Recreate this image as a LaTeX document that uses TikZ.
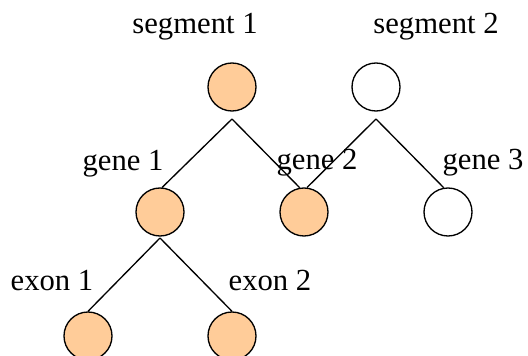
\documentclass[tikz,border=0pt]{standalone}
\usepackage{fontspec}
\setmainfont{Liberation Serif}

\tikzset{every picture/.style={line width=1pt}}
\tikzset{
  blob/.style={draw, circle, inner sep=0pt, minimum size=36pt},
  usedblob/.style={blob, fill={rgb, 255:red, 255; green, 204; blue, 153 }},
  freeblob/.style={blob, fill=white},
  tag/.style={anchor=base, inner sep=0.75pt, font=\fontsize{23}{27}\selectfont}
}

\begin{document}
\begin{tikzpicture}[x=0.75pt,y=0.75pt,yscale=-1,xscale=1]
\useasboundingbox (0,0) rectangle (528,356);

%Segments
\node (seg1) [usedblob] at (232,87) {};
\node (seg2) [freeblob] at (376,87) {};
%Genes
\node (gene1) [usedblob] at (160,212) {};
\node (gene2) [usedblob] at (304,212) {};
\node (gene3) [freeblob] at (448,212) {};
%Exons
\node (exon1) [usedblob] at (88,336) {};
\node (exon2) [usedblob] at (232,336) {};

%Forks
\coordinate (seg1fork) at (232,119);
\coordinate (seg2fork) at (376,119);
\coordinate (gene1fork) at (160,238);

%Straight Lines
\draw (seg1fork) -- (gene1.85);
\draw (seg1fork) -- (gene2.100);
\draw (seg2fork) -- (gene2.83);
\draw (seg2fork) -- (gene3.100);
\draw (gene1fork) -- (exon1.north);
\draw (gene1fork) -- (exon2.north);

% Text Node
\node (seg1tag) [tag] at (195,34) {segment 1};
% Text Node
\node (seg2tag) [tag] at (436,34) {segment 2};
% Text Node
\node (gene1tag) [tag] at (123,171) {gene 1};
% Text Node
\node (gene2tag) [tag] at (317,170) {gene 2};
% Text Node
\node (gene3tag) [tag] at (483,170) {gene 3};
% Text Node
\node (exon1tag) [tag] at (52,290) {exon 1};
% Text Node
\node (exon2tag) [tag] at (270,290) {exon 2};
\end{tikzpicture}
\end{document}
